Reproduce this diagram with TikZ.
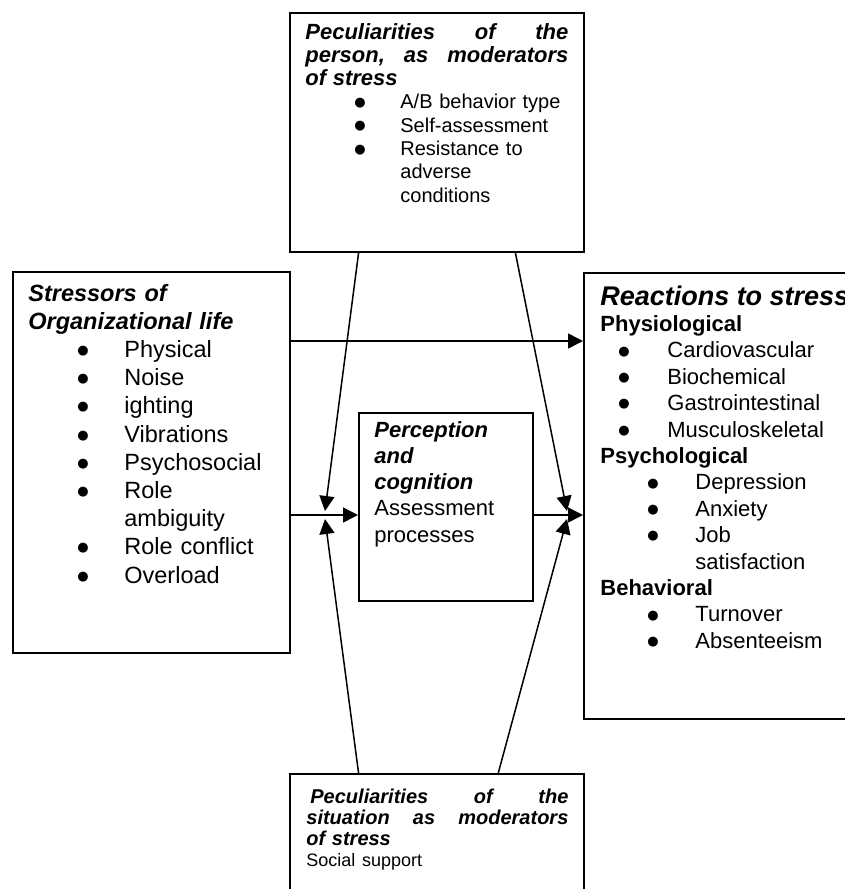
\documentclass[tikz,border=0pt]{standalone}
\usepackage{fontspec}
\setmainfont{Liberation Sans}
\newfontfamily\dotfont{DejaVu Sans}
\usetikzlibrary{arrows.meta,calc}

\newcommand{\hd}{\bfseries\itshape}
\newcommand{\bul}[2]{\hspace*{#1}\makebox[#2][l]{\raisebox{0.12em}{\fontsize{6.5}{6.5}\dotfont\char"25CF}}}

\begin{document}
\begin{tikzpicture}[x=0.5pt, y=-0.5pt,
    box/.style={draw, line width=1pt, inner sep=0pt, anchor=north west},
    txt/.style={inner sep=0pt, anchor=base west, align=left},
    arr/.style={line width=0.75pt, -{Triangle[length=7.5pt, width=7.5pt]}}]
  \useasboundingbox (0,0) rectangle (845,889);
  \clip (0,0) rectangle (845,889);

  % boxes
  \node[box, minimum width=147pt, minimum height=119.5pt] (person) at (289,12) {};
  \node[box, minimum width=138.5pt, minimum height=190.5pt] (stressors) at (12,271) {};
  \node[box, minimum width=87pt, minimum height=94pt] (perception) at (358,412) {};
  \node[box, minimum width=158.5pt, minimum height=223pt] (reactions) at (583,272) {};
  \node[box, minimum width=147pt, minimum height=88.5pt] (situation) at (289,773) {};

  % texts
  \node[txt, text width=131.5pt, font=\fontsize{10}{11.65}\selectfont] (persontext) at (305,39) {%
    {\fontsize{11}{11.65}\selectfont\hd Peculiarities\hfill of\hfill the}\\
    {\fontsize{11}{11.65}\selectfont\hd person,\hfill as\hfill moderators}\\
    {\fontsize{11}{11.65}\selectfont\hd of stress}\\
    \bul{24.5pt}{23pt}A/B behavior type\\
    \bul{24.5pt}{23pt}Self-assessment\\
    \bul{24.5pt}{23pt}Resistance to\\
    \hspace*{47.5pt}adverse\\
    \hspace*{47.5pt}conditions};
  \node[txt, text width=130pt, font=\fontsize{11.75}{14.1}\selectfont] (stressorstext) at (28,301) {%
    {\hd Stressors of}\\
    {\hd Organizational life}\\
    \bul{24.5pt}{23.5pt}Physical\\
    \bul{24.5pt}{23.5pt}Noise\\
    \bul{24.5pt}{23.5pt}ighting\\
    \bul{24.5pt}{23.5pt}Vibrations\\
    \bul{24.5pt}{23.5pt}Psychosocial\\
    \bul{24.5pt}{23.5pt}Role\\
    \hspace*{48pt}ambiguity\\
    \bul{24.5pt}{23.5pt}Role conflict\\
    \bul{24.5pt}{23.5pt}Overload};
  \node[txt, text width=75pt, font=\fontsize{11}{13.15}\selectfont] (perceptiontext) at (374,437) {%
    {\hd Perception}\\
    {\hd and}\\
    {\hd cognition}\\
    Assessment\\
    processes};
  \node[txt, text width=150pt, font=\fontsize{11}{13.2}\selectfont] (reactionstext) at (600,305) {%
    {\fontsize{13.5}{13.2}\selectfont\hd Reactions to stress}\\
    \textbf{Physiological}\\
    \bul{9pt}{24.5pt}Cardiovascular\\
    \bul{9pt}{24.5pt}Biochemical\\
    \bul{9pt}{24.5pt}Gastrointestinal\\
    \bul{9pt}{24.5pt}Musculoskeletal\\
    \textbf{Psychological}\\
    \bul{23.5pt}{24pt}Depression\\
    \bul{23.5pt}{24pt}Anxiety\\
    \bul{23.5pt}{24pt}Job\\
    \hspace*{47.5pt}satisfaction\\
    \textbf{Behavioral}\\
    \bul{23.5pt}{24pt}Turnover\\
    \bul{23.5pt}{24pt}Absenteeism};
  \node[txt, text width=131pt, font=\fontsize{10}{10.5}\selectfont] (situationtext) at (306,803) {%
    {\hd \hspace*{2pt}Peculiarities\hfill of\hfill the}\\
    {\hd situation\hfill as\hfill moderators}\\
    {\hd of stress}\\
    {\fontsize{9}{10.5}\selectfont Social support}};

  % rows where the arrows meet
  \coordinate (physrow) at (0,341);
  \coordinate (midrow) at (0,515);
  \coordinate (lefttop) at (325,511);
  \coordinate (leftbot) at (325,519);
  \coordinate (righttop) at (567,511);
  \coordinate (rightbot) at (567,519);

  % connectors
  \draw[arr] (stressors.east |- physrow) -- (reactions.west |- physrow);
  \draw[arr] (stressors.east |- midrow) -- (perception.west |- midrow);
  \draw[arr] (perception.east |- midrow) -- (reactions.west |- midrow);
  \draw[arr] ($(person.south west)!0.235!(person.south east)$) -- (lefttop);
  \draw[arr] ($(person.south west)!0.765!(person.south east)$) -- (righttop);
  \draw[arr] ($(situation.north west)!0.235!(situation.north east)$) -- (leftbot);
  \draw[arr] ($(situation.north west)!0.707!(situation.north east)$) -- (rightbot);
\end{tikzpicture}
\end{document}
